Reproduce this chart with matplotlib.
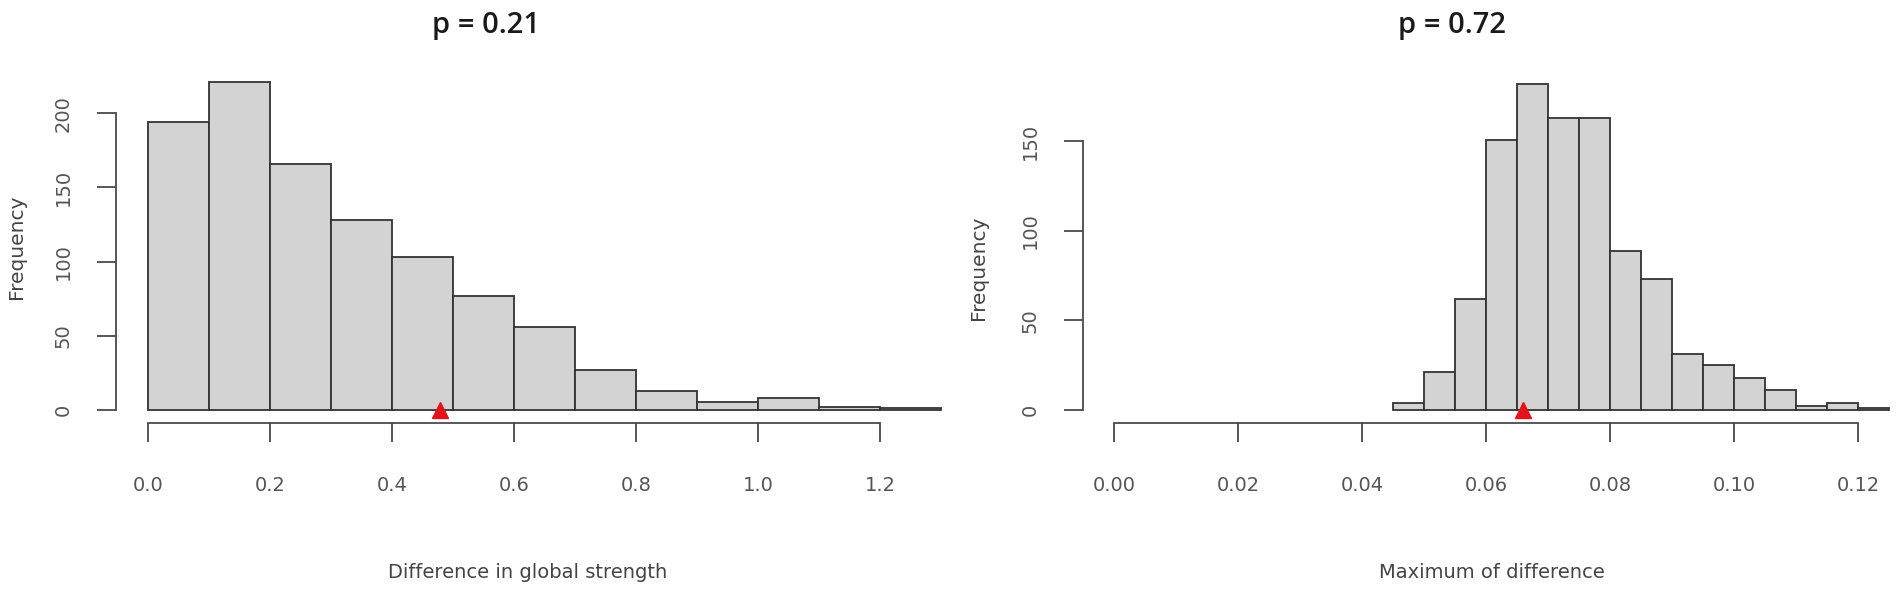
import numpy as np
import matplotlib
matplotlib.use("Agg")
import matplotlib.pyplot as plt

# permutation histograms, counts
strength_bins = [0.0, 0.1, 0.2, 0.3, 0.4, 0.5, 0.6, 0.7, 0.8, 0.9, 1.0, 1.1, 1.2, 1.3]
strength_counts = [194, 221, 166, 128, 103, 77, 56, 27, 13, 5, 8, 2, 1]
strength_obs = 0.478
strength_ticks = [0.0, 0.2, 0.4, 0.6, 0.8, 1.0, 1.2]
strength_ticklabels = ["0.0", "0.2", "0.4", "0.6", "0.8", "1.0", "1.2"]
strength_yticks = [0, 50, 100, 150, 200]

maxdiff_bins = [0.045, 0.05, 0.055, 0.06, 0.065, 0.07, 0.075, 0.08, 0.085,
                0.09, 0.095, 0.10, 0.105, 0.11, 0.115, 0.12, 0.125]
maxdiff_counts = [4, 21, 62, 151, 182, 163, 163, 89, 73, 31, 25, 18, 11, 2, 4, 1]
maxdiff_obs = 0.066
maxdiff_ticks = [0.0, 0.02, 0.04, 0.06, 0.08, 0.10, 0.12]
maxdiff_ticklabels = ["0.00", "0.02", "0.04", "0.06", "0.08", "0.10", "0.12"]
maxdiff_yticks = [0, 50, 100, 150]

titles = ["p = 0.21", "p = 0.72"]
xlabels = ["Difference in global strength", "Maximum of difference"]

W, H = 1901, 597
fig = plt.figure(figsize=(W / 100, H / 100), dpi=100)

tick_col = "#555555"
axis_col = "#4a4a4a"


def px_axes(x0, y_top, x1, y_bot):
    return [x0 / W, 1 - y_bot / H, (x1 - x0) / W, (y_bot - y_top) / H]


def r_hist(ax, bins, counts, obs, xrange_, xticks, xticklabels, yticks):
    bins = np.asarray(bins)
    ax.bar(bins[:-1], counts, width=np.diff(bins), align="edge",
           color="#d3d3d3", edgecolor="#333333", linewidth=1.3, zorder=2)
    ax.plot([obs], [0], marker="^", color="#e3121b", markersize=12,
            linestyle="none", clip_on=False, zorder=5)
    # R style 4% padding of the plot region
    dx = 0.04 * (xrange_[1] - xrange_[0])
    ax.set_xlim(xrange_[0] - dx, xrange_[1] + dx)
    ymax = max(counts)
    ax.set_ylim(-0.04 * ymax, ymax * 1.04)
    for s in ["top", "right"]:
        ax.spines[s].set_visible(False)
    for s in ["left", "bottom"]:
        ax.spines[s].set_color(axis_col)
        ax.spines[s].set_linewidth(1.3)
    ax.spines["bottom"].set_bounds(xticks[0], xticks[-1])
    ax.spines["left"].set_bounds(yticks[0], yticks[-1])
    ax.set_xticks(xticks)
    ax.set_xticklabels(xticklabels)
    ax.set_yticks(yticks)
    ax.set_yticklabels([str(v) for v in yticks], rotation=90, va="center")
    ax.tick_params(axis="both", direction="out", length=14, width=1.3,
                   color=axis_col, labelcolor=tick_col, labelsize=14)
    ax.tick_params(axis="x", pad=24)
    ax.tick_params(axis="y", pad=17)
    ax.patch.set_visible(False)


ax1 = fig.add_axes(px_axes(116, 69, 973, 423))
r_hist(ax1, strength_bins, strength_counts, strength_obs, (0, 1.3),
       strength_ticks, strength_ticklabels, strength_yticks)

ax2 = fig.add_axes(px_axes(1083, 71, 1920, 423))
r_hist(ax2, maxdiff_bins, maxdiff_counts, maxdiff_obs, (0, 0.125),
       maxdiff_ticks, maxdiff_ticklabels, maxdiff_yticks)

# titles, axis labels
for cx, t in zip([486, 1452], titles):
    fig.text(cx / W, 1 - 25 / H, t, ha="center", va="center",
             fontsize=21, family="Open Sans", fontweight="semibold",
             color="#1a1a1a")
for cx, t in zip([528, 1492], xlabels):
    fig.text(cx / W, 1 - 572 / H, t, ha="center", va="center",
             fontsize=14, color="#444444")
for (cx, cy) in [(17, 247), (978, 268)]:
    fig.text(cx / W, 1 - cy / H, "Frequency", ha="center", va="center",
             rotation=90, fontsize=14.5, color="#444444")

fig.savefig("out.png", dpi=100)
